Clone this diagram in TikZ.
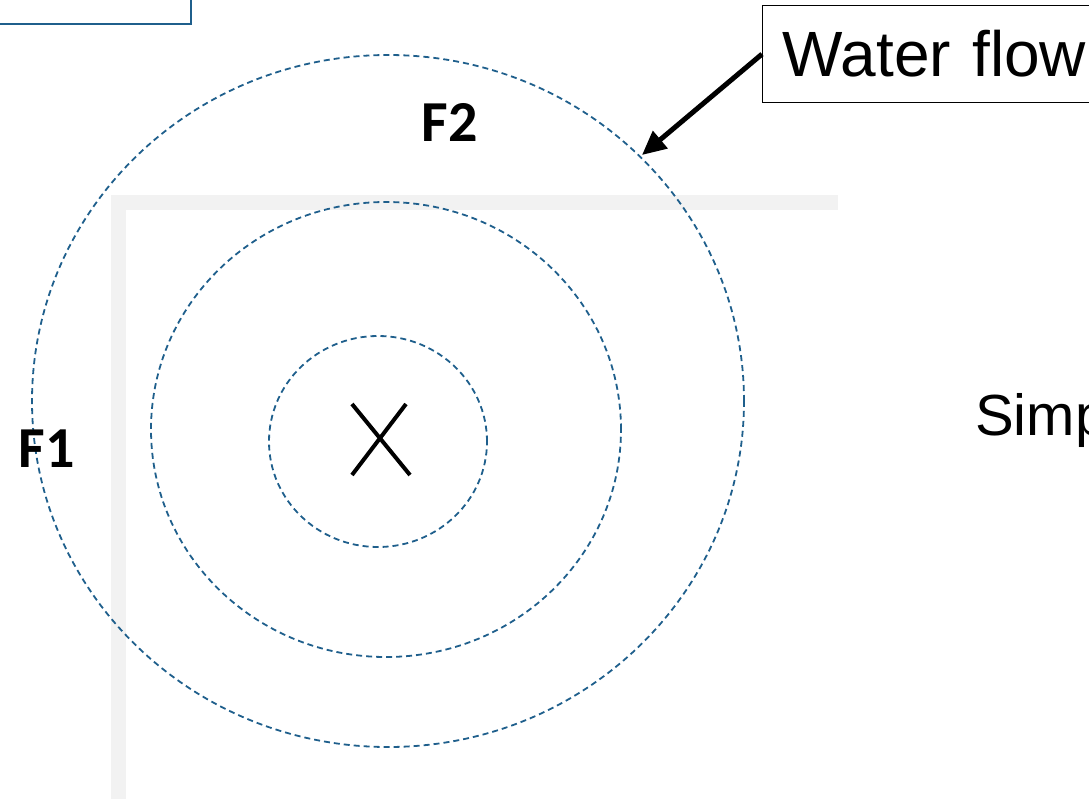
\documentclass[tikz,border=0pt]{standalone}
\usepackage{fontspec}
\setmainfont{Liberation Sans}
\newfontfamily\calib{Carlito}
\usetikzlibrary{arrows.meta}
\definecolor{ringblue}{HTML}{1F5F8C}
\definecolor{wallgray}{HTML}{F2F2F2}
\tikzset{
  ring/.style={draw=ringblue, line width=1.8pt, dash pattern=on 6pt off 4pt},
  wall/.style={draw=wallgray, line width=15pt, line join=miter},
  flabel/.style={font=\calib\bfseries\fontsize{58}{60}\selectfont, inner sep=0pt},
  bigtext/.style={font=\fontsize{64}{70}\selectfont},
  flowarrow/.style={line width=5pt, -{Triangle[length=24pt,width=22pt]}},
  crossline/.style={line width=4pt, draw=black}
}
\begin{document}
\begin{tikzpicture}[x=1pt, y=-1pt]
  \useasboundingbox (0,0) rectangle (1089,798);
  \clip (0,0) rectangle (1089,798);

  % corner of the wall
  \draw[wall] (118,820) -- (118,202) -- (838,202);

  % box cut off at the top left
  \draw[draw=ringblue, line width=2pt] (-10,-10) rectangle (191,24);

  % zones around the point
  \draw[ring] (388,401) ellipse [x radius=356pt, y radius=346pt];
  \draw[ring] (386,429.5) ellipse [x radius=235pt, y radius=227.5pt];
  \draw[ring] (378,441.5) ellipse [x radius=109pt, y radius=105.5pt];

  % the point itself
  \draw[crossline] (352,404) -- (410,475);
  \draw[crossline] (406,404) -- (352,475);

  % labels
  \node[flabel] (f2) at (450,122) {F2};
  \node[flabel] (f1) at (47,449) {F1};
  \node[bigtext, anchor=base west, inner sep=0pt, font=\fontsize{58}{64}\selectfont] (simp) at (975,435) {Simp};

  % flow box and arrow
  \node[draw, line width=1.2pt, anchor=north west, minimum width=360pt,
        minimum height=97pt, text width=330pt, inner xsep=20pt, align=left,
        bigtext] (wf) at (762,5) {Water flow};
  \coordinate (hit) at (642,155);
  \draw[flowarrow] (wf.west) -- (hit);
\end{tikzpicture}
\end{document}
